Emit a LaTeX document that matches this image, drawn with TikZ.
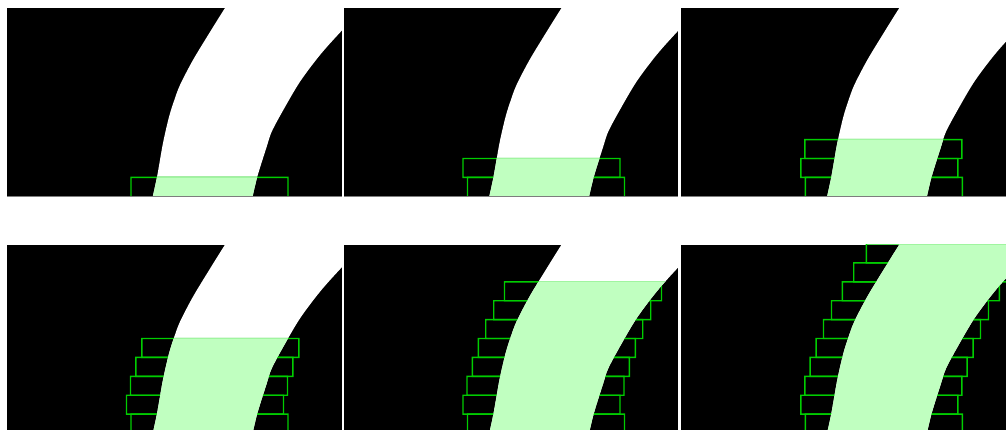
\documentclass[tikz,border=0pt]{standalone}
\definecolor{boxgreen}{RGB}{0,205,0}
\definecolor{fillgreen}{RGB}{192,255,192}
\definecolor{frontline}{RGB}{160,245,160}
\definecolor{edgegray}{RGB}{125,125,125}
\tikzset{
  panelbg/.style={fill=black},
  paneledge/.style={fill=edgegray},
  roadfill/.style={fill=white},
  corridor/.style={fill=fillgreen},
  boxrow/.style={fill=boxgreen,even odd rule},
  frontrow/.style={fill=frontline}
}
\def\roadpath{plot[smooth,tension=0.5] coordinates {(152,200) (157,177) (163,143) (169,117) (174,101) (180,85) (193,60) (210,32) (225,8) (237,-10)}
  -- plot[smooth,tension=0.5] coordinates {(385,-15) (341.7,30.7) (320,55) (300,81.7) (283.3,110) (271.7,131.7) (266.7,146.7) (257.3,176.7) (251.8,200)} -- cycle}
% #1 x offset, #2 y offset, #3 number of rows
\newcommand{\stagepanel}[3]{%
  \begin{scope}[shift={(#1,#2)}]
    \begin{scope}
      \clip (6.7,8) rectangle (341.8,196.6);
      \path[panelbg] (7,8.3) rectangle (341.5,196.3);
      \path[roadfill] \roadpath;
      \foreach \k/\l in {1/131,2/126.5,3/130.5,4/135.8,5/141.8,6/149.2,7/157.2,8/168,9/179.4,10/192}{%
        \ifnum\k>#3\relax\else
          \pgfmathsetmacro{\ytop}{196.3-18.9*\k}
          \pgfmathsetmacro{\ybot}{199-21.6*min(\k-1,1)-18.9*max(\k-2,0)}
          \path[boxrow] ({\l-0.7},{\ybot+0.7}) rectangle ({\l+157.7},{\ytop-0.7})
                        ({\l+0.7},{\ybot-0.7}) rectangle ({\l+156.3},{\ytop+0.7});
        \fi
      }
      \begin{scope}
        \clip \roadpath;
        \path[corridor] (0,198) rectangle (345,{196.3-18.9*#3});
        \path[frontrow] (0,{196.3-18.9*#3-0.6}) rectangle (345,{196.3-18.9*#3+0.6});
      \end{scope}
      \path[paneledge] (7,196) rectangle (341.5,196.6);
    \end{scope}
  \end{scope}
}
\begin{document}
\begin{tikzpicture}[x=1pt,y=-1pt]
  \useasboundingbox (0,0) rectangle (1006,430);
  \clip (0,0) rectangle (1006,430);
  \stagepanel{0}{0}{1}
  \stagepanel{336.5}{0}{2}
  \stagepanel{674.3}{0}{3}
  \stagepanel{0}{236.7}{5}
  \stagepanel{336.5}{236.7}{8}
  \stagepanel{674.3}{236.7}{10}
\end{tikzpicture}
\end{document}
